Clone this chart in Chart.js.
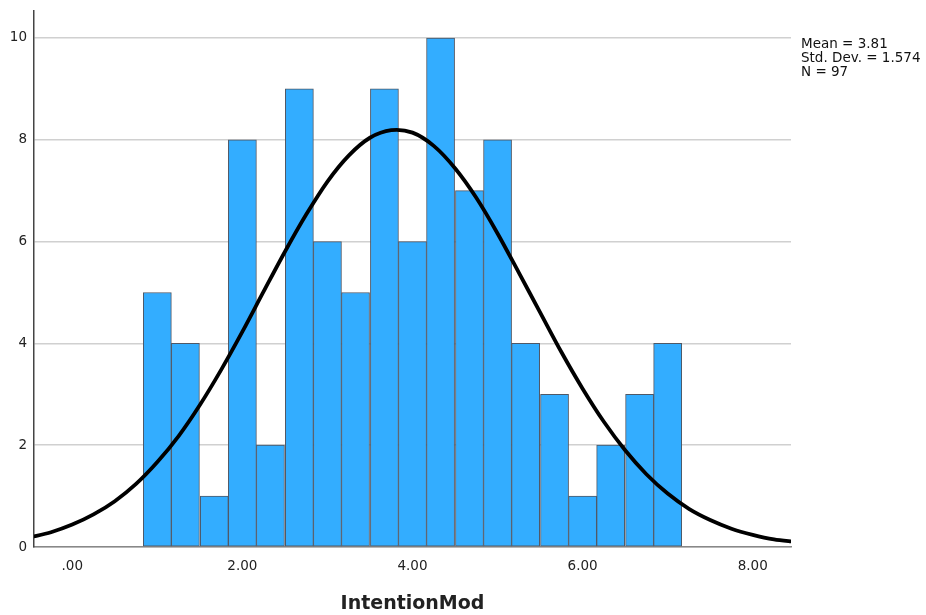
<!DOCTYPE html>
<html>
<head>
<meta charset="utf-8">
<script src="https://cdn.jsdelivr.net/npm/chart.js@4.4.1/dist/chart.umd.min.js"></script>
<style>
  html, body { margin: 0; padding: 0; background: #fff; }
  #wrap { width: 926px; height: 615px; }
</style>
</head>
<body>
<div id="wrap"><canvas id="hist"></canvas></div>
<script>
// bin centres (bin width 1/3) and frequencies
const binCenters = [1.00, 1.33, 1.67, 2.00, 2.33, 2.67, 3.00, 3.33, 3.67, 4.00,
                    4.33, 4.67, 5.00, 5.33, 5.67, 6.00, 6.33, 6.67, 7.00];
const counts = [5, 4, 1, 8, 2, 9, 6, 5, 9, 6, 10, 7, 8, 4, 3, 1, 2, 3, 4];

// normal curve, every 0.25
const curveX = [-0.5, -0.25, 0, 0.25, 0.5, 0.75, 1, 1.25, 1.5, 1.75, 2, 2.25, 2.5, 2.75, 3, 3.25, 3.5, 3.75,
                4, 4.25, 4.5, 4.75, 5, 5.25, 5.5, 5.75, 6, 6.25, 6.5, 6.75, 7, 7.25, 7.5, 7.75, 8, 8.25, 8.5];
const curveY = [0.19, 0.29, 0.44, 0.64, 0.90, 1.24, 1.67, 2.18, 2.79, 3.48, 4.23, 5.02, 5.80, 6.53, 7.18, 7.69, 8.04, 8.19,
                8.14, 7.88, 7.44, 6.86, 6.16, 5.39, 4.61, 3.83, 3.11, 2.46, 1.90, 1.43, 1.05, 0.75, 0.53, 0.36, 0.24, 0.15, 0.10];

const xTicks = [0, 2, 4, 6, 8];
const yTicks = [0, 2, 4, 6, 8, 10];
const statLines = ['Mean = 3.81', 'Std. Dev. = 1.574', 'N = 97'];

const statsText = {
  id: 'statsText',
  afterDraw(chart) {
    const ctx = chart.ctx;
    ctx.save();
    ctx.fillStyle = '#111';
    ctx.font = '13.5px "DejaVu Sans", sans-serif';
    ctx.textBaseline = 'middle';
    statLines.forEach((t, i) => ctx.fillText(t, 801, 44 + i * 14));
    ctx.restore();
  }
};

new Chart(document.getElementById('hist'), {
  type: 'bar',
  data: {
    datasets: [{
      type: 'line',
      order: 0,
      data: curveX.map((x, i) => ({ x: x, y: curveY[i] })),
      borderColor: '#000',
      borderWidth: 3.8,
      pointRadius: 0,
      tension: 0.3,
      fill: false
    }, {
      type: 'bar',
      order: 1,
      data: binCenters.map((x, i) => ({ x: x, y: counts[i] })),
      backgroundColor: '#33adff',
      borderColor: '#4f5866',
      borderWidth: 1,
      barPercentage: 1,
      categoryPercentage: 1,
      borderSkipped: false
    }]
  },
  options: {
    responsive: true,
    maintainAspectRatio: false,
    animation: false,
    layout: { padding: { top: 11, right: 135, left: 0, bottom: 0 } },
    plugins: { legend: { display: false }, tooltip: { enabled: false } },
    scales: {
      x: {
        type: 'linear',
        offset: false,
        min: -0.45,
        max: 8.45,
        afterBuildTicks: s => { s.ticks = xTicks.map(v => ({ value: v })); },
        afterFit: s => { s.height = 68; s.paddingLeft = 0; s.paddingRight = 0; },
        grid: { display: false },
        border: { color: '#888', width: 1.5 },
        ticks: {
          color: '#222',
          padding: 3,
          font: { family: '"DejaVu Sans", sans-serif', size: 13.5 },
          callback: v => v === 0 ? '.00' : v.toFixed(2)
        },
        title: {
          display: true,
          text: 'IntentionMod',
          color: '#222',
          padding: { top: 16, bottom: 0 },
          font: { family: '"DejaVu Sans", sans-serif', size: 19, weight: 'bold' }
        }
      },
      y: {
        min: 0,
        max: 10.53,
        afterBuildTicks: s => { s.ticks = yTicks.map(v => ({ value: v })); },
        afterFit: s => { s.width = 34; s.paddingTop = 0; s.paddingBottom = 0; },
        grid: { color: '#d0d0d0', lineWidth: 1.5, drawTicks: false },
        border: { color: '#444', width: 1.5 },
        ticks: {
          color: '#222',
          padding: 7,
          font: { family: '"DejaVu Sans", sans-serif', size: 13.5 }
        }
      }
    }
  },
  plugins: [statsText]
});
</script>
</body>
</html>
